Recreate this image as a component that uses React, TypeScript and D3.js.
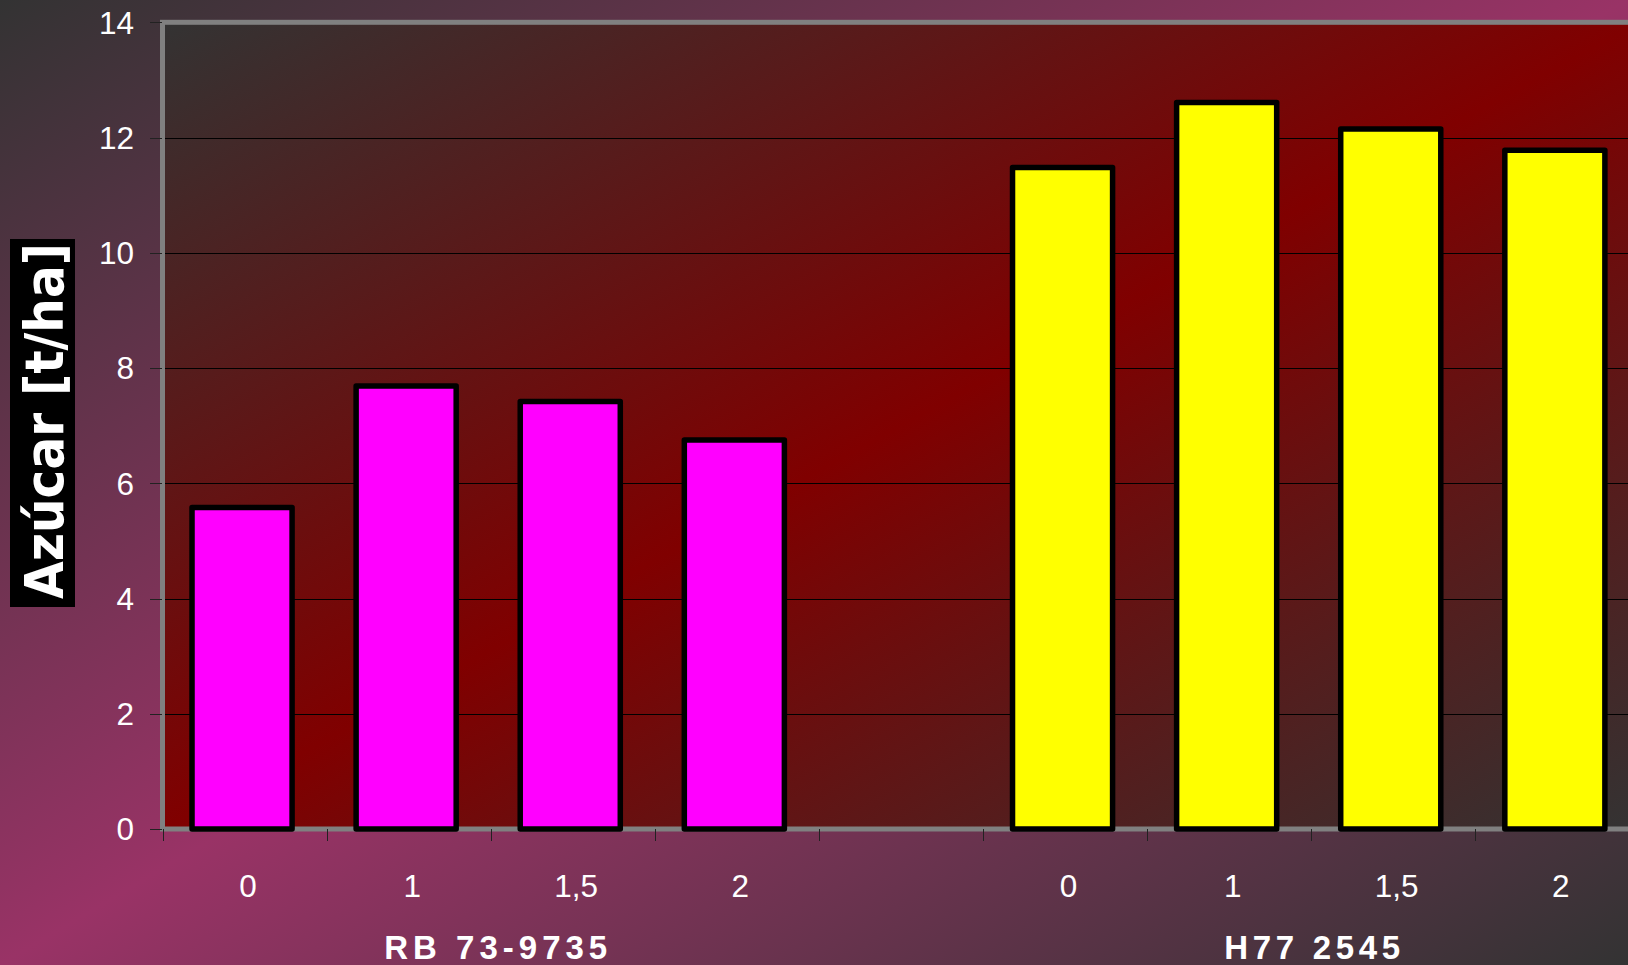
import React from "react";
import * as d3 from "d3";

const groups = ["RB 73-9735", "H77 2545"];
const doses = ["0", "1", "1,5", "2"];
const rbValues = [5.58, 7.69, 7.42, 6.75];
const h77Values = [11.48, 12.61, 12.15, 11.78];
const groupColors = ["#FF00FF", "#FFFF00"];
const yTicks = [0, 2, 4, 6, 8, 10, 12, 14];
const yTitle = "Azúcar [t/ha]";

const W = 1628;
const H = 965;
const FONT = "'Liberation Sans', Arial, sans-serif";

export default function App() {
  const seriesValues = [rbValues, h77Values];
  const cats: string[] = [];
  groups.forEach((g, gi) => {
    if (gi > 0) cats.push("gap" + gi);
    doses.forEach((d) => cats.push(g + "|" + d));
  });
  const left = 162.5;
  const step = 164.1;
  const x = d3.scaleBand<string>().domain(cats).range([left, left + step * cats.length]).padding(0);
  const y = d3.scaleLinear().domain([0, 14]).range([829, 22.3]);
  const bw = x.bandwidth();
  const barW = bw / 1.64;

  const bars: { key: string; v: number; color: string }[] = [];
  groups.forEach((g, gi) => {
    doses.forEach((d, di) => {
      bars.push({ key: g + "|" + d, v: seriesValues[gi][di], color: groupColors[gi] });
    });
  });

  const tickXs = cats.map((c) => x(c) as number);

  return (
    <svg
      width={W}
      height={H}
      style={{ position: "fixed", left: 0, top: 0, display: "block" }}
      xmlns="http://www.w3.org/2000/svg"
    >
      <defs>
        <linearGradient id="bg" x1="0" y1="0" x2="1" y2="1">
          <stop offset="0" stopColor="#333333" />
          <stop offset="0.5" stopColor="#993366" />
          <stop offset="1" stopColor="#333333" />
        </linearGradient>
        <linearGradient id="plotbg" x1="0" y1="0" x2="1" y2="1">
          <stop offset="0" stopColor="#333333" />
          <stop offset="0.5" stopColor="#800000" />
          <stop offset="1" stopColor="#333333" />
        </linearGradient>
      </defs>
      <rect x={0} y={0} width={W} height={H} fill="url(#bg)" />
      <rect
        x={left}
        y={y(14)}
        width={step * cats.length}
        height={y(0) - y(14)}
        fill="url(#plotbg)"
        stroke="#808080"
        strokeWidth={5}
      />
      {yTicks
        .filter((t) => t > 0 && t < 14)
        .map((t) => (
          <line key={"g" + t} x1={left + 2.5} x2={W} y1={Math.round(y(t)) + 0.5} y2={Math.round(y(t)) + 0.5} stroke="#000" strokeWidth={1} />
        ))}
      {yTicks.map((t) => (
        <g key={"yt" + t}>
          <line x1={150} x2={162} y1={Math.round(y(t)) + 0.5} y2={Math.round(y(t)) + 0.5} stroke="#222" strokeWidth={1} />
          <text x={134} y={y(t)} dy="0.36em" textAnchor="end" fill="#fff" fontFamily={FONT} fontSize={31.5}>
            {t}
          </text>
        </g>
      ))}
      {bars.map((b) => {
        const cx = (x(b.key) as number) + bw / 2 - 2.5;
        return (
          <rect
            key={b.key}
            x={cx - barW / 2}
            y={y(b.v)}
            width={barW}
            height={y(0) - y(b.v)}
            fill={b.color}
            stroke="#000"
            strokeWidth={5.5}
            strokeLinejoin="round"
          />
        );
      })}
      {tickXs.map((tx, i) => (
        <line key={"xt" + i} x1={Math.round(tx) + 0.5} x2={Math.round(tx) + 0.5} y1={829} y2={841} stroke="#222" strokeWidth={1} />
      ))}
      {bars.map((b, i) => (
        <text
          key={"xl" + b.key}
          x={(x(b.key) as number) + bw / 2 + 3.5}
          y={886}
          dy="0.36em"
          textAnchor="middle"
          fill="#fff"
          fontFamily={FONT}
          fontSize={31.5}
        >
          {doses[i % doses.length]}
        </text>
      ))}
      {groups.map((g, gi) => {
        const first = x(g + "|" + doses[0]) as number;
        const last = (x(g + "|" + doses[doses.length - 1]) as number) + bw;
        const cx = (first + last) / 2 + (gi === 0 ? 5 : 1);
        return (
          <text
            key={"gl" + g}
            x={cx}
            y={959}
            textAnchor="middle"
            fill="#fff"
            fontFamily={FONT}
            fontWeight="bold"
            fontSize={33}
            textLength={gi === 0 ? 223 : 176}
            lengthAdjust="spacing"
          >
            {g}
          </text>
        );
      })}
      <rect x={10} y={239} width={65} height={368} fill="#000" />
      <text
        transform="translate(63,421) rotate(-90)"
        textAnchor="middle"
        fill="#fff"
        fontFamily="'DejaVu Sans', sans-serif"
        fontWeight="bold"
        fontSize={54}
        textLength={356}
        lengthAdjust="spacingAndGlyphs"
      >
        {yTitle}
      </text>
    </svg>
  );
}
